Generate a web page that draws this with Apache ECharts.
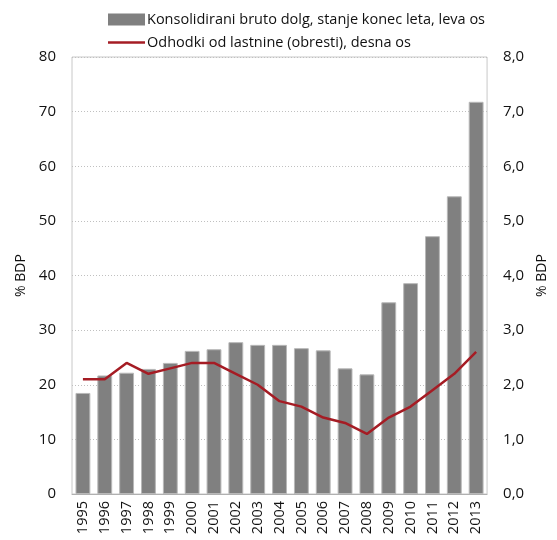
<!DOCTYPE html>
<html style="height: 100%">
<head>
    <meta charset="utf-8">
    <script src="https://cdn.jsdelivr.net/npm/echarts@6/dist/echarts.min.js"></script>
</head>
<body style="height: 100%; margin: 0">
<div id="container" style="width: 557px; height: 540px"></div>

<script type="text/javascript">
    var years = ['1995','1996','1997','1998','1999','2000','2001','2002','2003','2004',
                 '2005','2006','2007','2008','2009','2010','2011','2012','2013'];
    var debt = [18.5, 21.7, 22.2, 22.9, 24.0, 26.2, 26.5, 27.8, 27.3, 27.3,
                26.7, 26.3, 23.0, 21.9, 35.1, 38.6, 47.2, 54.5, 71.8];
    var interest = [2.1, 2.1, 2.4, 2.2, 2.3, 2.4, 2.4, 2.2, 2.0, 1.7,
                    1.6, 1.4, 1.3, 1.1, 1.4, 1.6, 1.9, 2.2, 2.6];
    var leftTicks = [0, 10, 20, 30, 40, 50, 60, 70, 80];
    var rightTicks = [0, 1, 2, 3, 4, 5, 6, 7, 8];

    var font = '"Open Sans", sans-serif';
    var dom = document.getElementById("container");
    var myChart = echarts.init(dom);
    var option = {
        animation: false,
        textStyle: { fontFamily: font },
        legend: {
            orient: 'vertical',
            left: 103,
            top: 7,
            itemWidth: 37,
            itemHeight: 12,
            itemGap: 8,
            textStyle: { fontSize: 14.5, color: '#111', fontFamily: font, padding: [0, 0, 0, -3] },
            data: [
                { name: 'Konsolidirani bruto dolg, stanje konec leta, leva os', icon: 'rect',
                  itemStyle: { color: '#808080', borderWidth: 0 } },
                { name: 'Odhodki od lastnine (obresti), desna os',
                  icon: 'path://M0,0M37,12M0,4.8H37V7.2H0Z' }
            ]
        },
        grid: {
            left: 72, right: 67, top: 57, bottom: 46,
            show: true, borderColor: '#c8c8c8', borderWidth: 1
        },
        xAxis: {
            type: 'category',
            data: years,
            axisLine: { lineStyle: { color: '#b0b0b0' } },
            axisTick: { show: false },
            axisLabel: { rotate: 90, fontSize: 14.5, color: '#111', margin: 7 }
        },
        yAxis: [
            {
                type: 'value', min: leftTicks[0], max: leftTicks[leftTicks.length - 1], interval: 10,
                name: '% BDP', nameLocation: 'middle', nameGap: 42, nameRotate: 90,
                nameTextStyle: { fontSize: 14, color: '#111' },
                axisLabel: { fontSize: 15, color: '#111', margin: 16 },
                axisLine: { show: false }, axisTick: { show: false },
                splitLine: { lineStyle: { color: '#c0c0c0', type: [1, 2] } }
            },
            {
                type: 'value', min: rightTicks[0], max: rightTicks[rightTicks.length - 1], interval: 1,
                name: '% BDP', nameLocation: 'middle', nameGap: 44, nameRotate: 90,
                nameTextStyle: { fontSize: 14, color: '#111' },
                axisLabel: { fontSize: 15, color: '#111', margin: 16,
                    formatter: function (v) { return v.toFixed(1).replace('.', ','); } },
                axisLine: { show: false }, axisTick: { show: false },
                splitLine: { show: false }
            }
        ],
        series: [
            {
                name: 'Konsolidirani bruto dolg, stanje konec leta, leva os',
                type: 'bar',
                data: debt,
                barCategoryGap: '32%',
                itemStyle: { color: '#808080', borderColor: '#b8b8b8', borderWidth: 1 }
            },
            {
                name: 'Odhodki od lastnine (obresti), desna os',
                type: 'line',
                yAxisIndex: 1,
                data: interest,
                symbol: 'none',
                lineStyle: { color: '#a51c24', width: 2.5 },
                itemStyle: { color: '#a51c24' }
            }
        ]
    };
    myChart.setOption(option);
</script>
</body>
</html>
